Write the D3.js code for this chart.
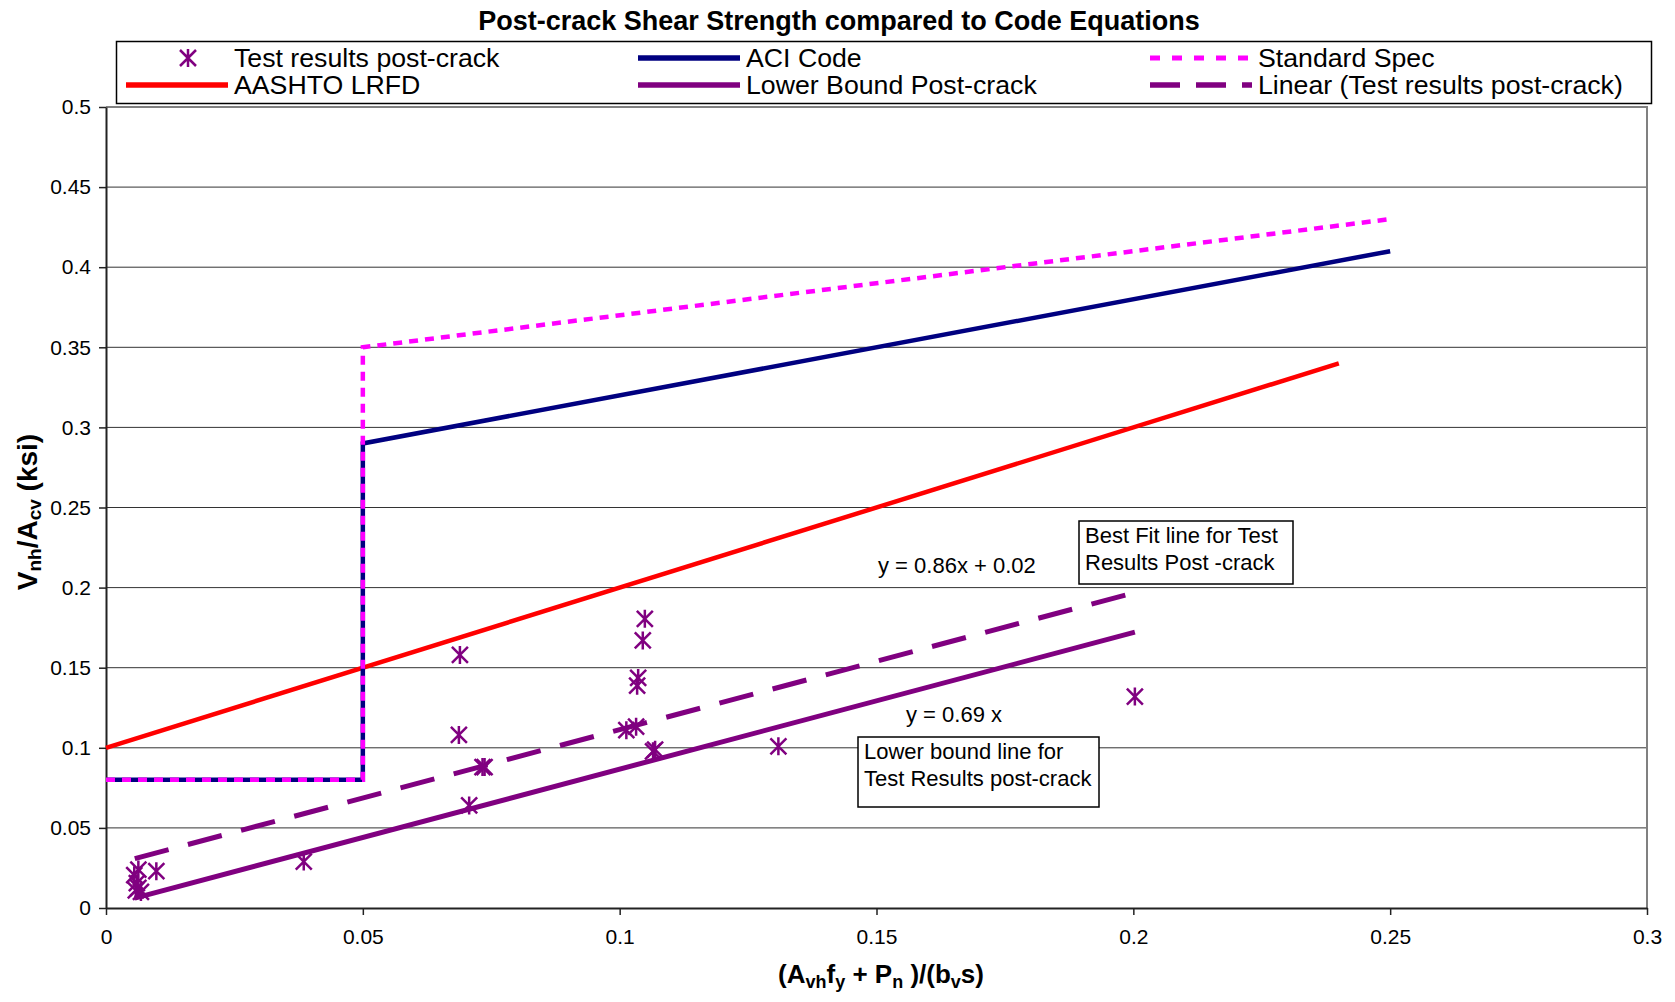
<!DOCTYPE html>
<html lang="en">
<head>
  <meta charset="utf-8" />
  <style>
    body { margin: 0; background: #fff; }
    text { font-family: "Liberation Sans", Arial, sans-serif; fill: #000; }
    .grid line { stroke: #333; stroke-width: 1px; }
  </style>
</head>
<body>
<svg width="1675" height="1002"></svg>
<script src="https://d3js.org/d3.v7.min.js"></script>
<script>
// test results post-crack (x, y)
var ptX = [0.0689, 0.0687, 0.0707, 0.0733, 0.0737, 0.0385, 0.1049, 0.1045, 0.1036, 0.1034,
           0.1013, 0.1032, 0.1065, 0.1069, 0.1309, 0.2003, 0.0063, 0.0098, 0.0055, 0.0060,
           0.0063, 0.0058, 0.0068];
var ptY = [0.158, 0.108, 0.064, 0.088, 0.088, 0.029, 0.1805, 0.167, 0.1436, 0.1388,
           0.111, 0.1132, 0.0978, 0.0988, 0.1009, 0.132, 0.024, 0.023, 0.0205, 0.0155,
           0.0125, 0.011, 0.010];

var aciX = [0, 0.05, 0.05, 0.25],   aciY = [0.08, 0.08, 0.29, 0.41];
var specX = [0, 0.05, 0.05, 0.25],  specY = [0.08, 0.08, 0.35, 0.43];
var aashtoX = [0, 0.24],            aashtoY = [0.10, 0.34];
var lowerX = [0.0056, 0.2003],      lowerY = [0.0062, 0.1722];
var fitX = [0.0056, 0.2003],        fitY = [0.0308, 0.1969];

var xTicks = [0, 0.05, 0.1, 0.15, 0.2, 0.25, 0.3];
var yTicks = [0, 0.05, 0.1, 0.15, 0.2, 0.25, 0.3, 0.35, 0.4, 0.45, 0.5];

var svg = d3.select("svg"),
    pL = 106, pR = 1647, pT = 107, pB = 908;

var x = d3.scaleLinear().domain([0, 0.3]).range([pL, pR]),
    y = d3.scaleLinear().domain([0, 0.5]).range([pB, pT]);

// gridlines
svg.append("g").attr("class", "grid")
  .selectAll("line").data(yTicks.slice(1, -1)).join("line")
    .attr("x1", pL).attr("x2", pR)
    .attr("y1", d => y(d)).attr("y2", d => y(d));

// plot border top/right
svg.append("path")
  .attr("d", "M" + pL + "," + pT + "H" + pR + "V" + pB)
  .attr("fill", "none").attr("stroke", "#808080").attr("stroke-width", 2);

// axes
var fmt = d => d === 0 ? "0" : String(+d.toFixed(2));
var yAxis = svg.append("g")
  .attr("transform", "translate(" + pL + ",0)")
  .call(d3.axisLeft(y).tickValues(yTicks).tickSize(7).tickSizeOuter(0).tickPadding(8).tickFormat(fmt));
var xAxis = svg.append("g")
  .attr("transform", "translate(0," + pB + ")")
  .call(d3.axisBottom(x).tickValues(xTicks).tickSize(7).tickSizeOuter(0).tickPadding(14).tickFormat(fmt));
[xAxis, yAxis].forEach(function(a) {
  a.select(".domain").attr("stroke", "#222").attr("stroke-width", 2);
  a.selectAll(".tick line").attr("stroke", "#222").attr("stroke-width", 1.5);
  a.selectAll(".tick text").style("font-size", "21px").style("font-family", "Liberation Sans, Arial, sans-serif");
});

var line = d3.line().x(d => x(d[0])).y(d => y(d[1]));
function pts(xs, ys) { return xs.map((v, i) => [v, ys[i]]); }

svg.append("path").datum(pts(aashtoX, aashtoY)).attr("d", line)
  .attr("fill", "none").attr("stroke", "#ff0000").attr("stroke-width", 4.5);
svg.append("path").datum(pts(aciX, aciY)).attr("d", line)
  .attr("fill", "none").attr("stroke", "#000080").attr("stroke-width", 4.5);
svg.append("path").datum(pts(specX, specY)).attr("d", line)
  .attr("fill", "none").attr("stroke", "#ff00ff").attr("stroke-width", 4.5)
  .attr("stroke-dasharray", "9,7");
svg.append("path").datum(pts(lowerX, lowerY)).attr("d", line)
  .attr("fill", "none").attr("stroke", "#800080").attr("stroke-width", 5);
svg.append("path").datum(pts(fitX, fitY)).attr("d", line)
  .attr("fill", "none").attr("stroke", "#800080").attr("stroke-width", 5)
  .attr("stroke-dasharray", "35,20");

function asterisk(g, cx, cy) {
  var s = 8;
  g.append("path")
    .attr("d", "M" + (cx - s) + "," + (cy - s) + "L" + (cx + s) + "," + (cy + s) +
               "M" + (cx + s) + "," + (cy - s) + "L" + (cx - s) + "," + (cy + s) +
               "M" + cx + "," + (cy - s - 1) + "L" + cx + "," + (cy + s + 1))
    .attr("stroke", "#800080").attr("stroke-width", 2.5).attr("fill", "none");
}
var mk = svg.append("g");
ptX.forEach((v, i) => asterisk(mk, x(v), y(ptY[i])));

// annotations
function box(x0, y0, x1, y1, lines, tx, ty) {
  svg.append("rect").attr("x", x0).attr("y", y0).attr("width", x1 - x0).attr("height", y1 - y0)
    .attr("fill", "#fff").attr("stroke", "#000").attr("stroke-width", 1.5);
  lines.forEach((t, i) => svg.append("text").attr("x", tx).attr("y", ty[i])
    .style("font-size", "22px").text(t));
}
svg.append("text").attr("x", 878).attr("y", 573).style("font-size", "22px").text("y = 0.86x + 0.02");
box(1079, 521, 1293, 584, ["Best Fit line for Test", "Results Post -crack"], 1085, [543, 570]);
svg.append("text").attr("x", 906).attr("y", 722).style("font-size", "22px").text("y = 0.69 x");
box(858, 737, 1099, 807, ["Lower bound line for", "Test Results post-crack"], 864, [759, 786]);

// title
svg.append("text").attr("x", 839).attr("y", 30).attr("text-anchor", "middle")
  .style("font-size", "27px").style("font-weight", "bold")
  .text("Post-crack Shear Strength compared to Code Equations");

// axis titles with subscripts
function rich(el, parts, sub, shift) {
  parts.forEach(function(p) {
    var t = el.append("tspan").text(p[0]);
    if (p[1]) t.attr("baseline-shift", shift).style("font-size", sub);
  });
}
var xt = svg.append("text").attr("x", 881).attr("y", 983).attr("text-anchor", "middle")
  .style("font-size", "26px").style("font-weight", "bold");
rich(xt, [["(A"], ["vh", 1], ["f"], ["y", 1], [" + P"], ["n", 1], [" )/(b"], ["v", 1], ["s)"]], "18px", "-5px");
var yt = svg.append("text").attr("transform", "translate(37,512) rotate(-90)").attr("text-anchor", "middle")
  .style("font-size", "28px").style("font-weight", "bold");
rich(yt, [["V"], ["nh", 1], ["/A"], ["cv", 1], [" (ksi)"]], "19px", "-4px");

// legend
var lg = svg.append("g");
lg.append("rect").attr("x", 116.5).attr("y", 41.5).attr("width", 1535).attr("height", 62)
  .attr("fill", "#fff").attr("stroke", "#000").attr("stroke-width", 1.5);
var legendItems = [
  {name: "Test results post-crack", col: 0, row: 0, kind: "marker"},
  {name: "ACI Code", col: 1, row: 0, color: "#000080"},
  {name: "Standard Spec", col: 2, row: 0, color: "#ff00ff", dash: "10,12", w: 5},
  {name: "AASHTO LRFD", col: 0, row: 1, color: "#ff0000"},
  {name: "Lower Bound Post-crack", col: 1, row: 1, color: "#800080"},
  {name: "Linear (Test results post-crack)", col: 2, row: 1, color: "#800080", dash: "30,16"}
];
var colX = [234, 746, 1258], rowY = [58, 85];
legendItems.forEach(function(d) {
  var tx = colX[d.col], ty = rowY[d.row];
  if (d.kind === "marker") {
    asterisk(lg, tx - 46, ty);
  } else {
    lg.append("line").attr("x1", tx - 108).attr("x2", tx - 6).attr("y1", ty).attr("y2", ty)
      .attr("stroke", d.color).attr("stroke-width", d.w || 5.5)
      .attr("stroke-dasharray", d.dash || null);
  }
  lg.append("text").attr("x", tx).attr("y", ty + 9).style("font-size", "26.7px").text(d.name);
});
</script>
</body>
</html>
